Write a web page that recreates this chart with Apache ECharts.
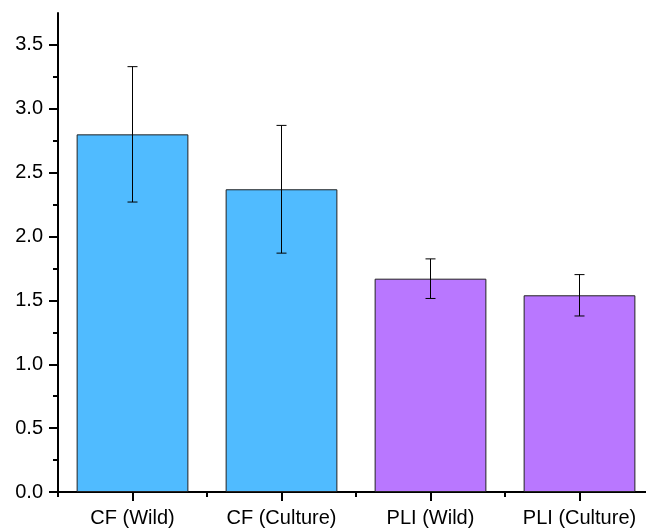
<!DOCTYPE html>
<html>
<head>
<meta charset="utf-8">
<script src="https://cdn.jsdelivr.net/npm/echarts@6/dist/echarts.min.js"></script>
<style>
  html, body { margin: 0; padding: 0; background: #fff; overflow: hidden; width: 646px; height: 528px; }
  /* the plot runs a few pixels past the right edge of the page */
  #chart { width: 654px; height: 528px; }
</style>
</head>
<body>
<div id="chart"></div>
<script>
// Category names and mean values with their standard deviations
const categories = ['CF (Wild)', 'CF (Culture)', 'PLI (Wild)', 'PLI (Culture)'];
const means = [2.80, 2.37, 1.67, 1.54];
const errors = [0.53, 0.50, 0.155, 0.162];
const barColors = ['#50BBFF', '#50BBFF', '#B977FF', '#B977FF'];

// Y axis tick values
const majorTicks = [0, 0.5, 1.0, 1.5, 2.0, 2.5, 3.0, 3.5];
const minorTicks = [0.25, 0.75, 1.25, 1.75, 2.25, 2.75, 3.25];
const yMax = 3.75;

const fontFamily = '"Liberation Sans", Arial, sans-serif';
const black = '#000';
const axisWidth = 2;

const errorData = means.map((m, i) => [i, m - errors[i], m + errors[i]]);

const chart = echarts.init(document.getElementById('chart'), null, { renderer: 'canvas' });

chart.setOption({
  animation: false,
  grid: { left: 58, top: 13, right: 0, bottom: 35, containLabel: false },
  xAxis: [
    {
      type: 'category',
      data: categories,
      position: 'bottom',
      axisLine: { show: true, lineStyle: { color: black, width: axisWidth } },
      axisTick: { show: true, alignWithLabel: true, interval: 0, length: 9, lineStyle: { color: black, width: axisWidth } },
      axisLabel: { interval: 0, color: black, fontSize: 20, fontFamily: fontFamily, margin: 16 },
      splitLine: { show: false }
    },
    {
      type: 'category',
      data: categories,
      position: 'bottom',
      axisLine: { show: false },
      axisTick: { show: true, interval: 0, length: 5, lineStyle: { color: black, width: axisWidth } },
      axisLabel: { show: false },
      splitLine: { show: false }
    }
  ],
  yAxis: [
    {
      type: 'value',
      min: 0,
      max: yMax,
      position: 'left',
      axisLine: { show: true, lineStyle: { color: black, width: axisWidth } },
      axisTick: { show: true, length: 9, customValues: majorTicks, lineStyle: { color: black, width: axisWidth } },
      axisLabel: {
        customValues: majorTicks,
        formatter: v => v.toFixed(1),
        color: black, fontSize: 20, fontFamily: fontFamily, margin: 15
      },
      splitLine: { show: false }
    },
    {
      type: 'value',
      min: 0,
      max: yMax,
      position: 'left',
      axisLine: { show: false },
      axisTick: { show: true, length: 5, customValues: minorTicks, lineStyle: { color: black, width: axisWidth } },
      axisLabel: { show: false },
      splitLine: { show: false }
    }
  ],
  series: [
    {
      type: 'bar',
      xAxisIndex: 0,
      yAxisIndex: 0,
      barWidth: '75%',
      data: means.map((v, i) => ({
        value: v,
        itemStyle: { color: barColors[i], borderColor: '#222', borderWidth: 1 }
      }))
    },
    {
      type: 'custom',
      xAxisIndex: 0,
      yAxisIndex: 0,
      data: errorData,
      encode: { x: 0, y: [1, 2] },
      z: 10,
      renderItem: function (params, api) {
        const idx = api.value(0);
        const lo = api.coord([idx, api.value(1)]);
        const hi = api.coord([idx, api.value(2)]);
        const half = 5;
        const style = { stroke: black, lineWidth: 1 };
        return {
          type: 'group',
          children: [
            { type: 'line', shape: { x1: hi[0], y1: hi[1], x2: lo[0], y2: lo[1] }, style: style },
            { type: 'line', shape: { x1: hi[0] - half, y1: hi[1], x2: hi[0] + half, y2: hi[1] }, style: style },
            { type: 'line', shape: { x1: lo[0] - half, y1: lo[1], x2: lo[0] + half, y2: lo[1] }, style: style }
          ]
        };
      }
    }
  ]
});
</script>
</body>
</html>
